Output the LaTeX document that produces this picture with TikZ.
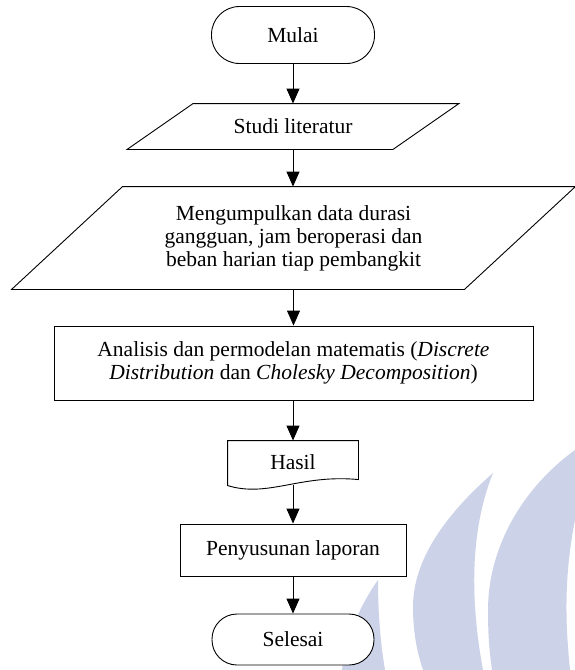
\documentclass[tikz,border=0pt]{standalone}
\usepackage{fontspec}
\setmainfont{Liberation Serif}
\usetikzlibrary{arrows.meta,calc}
\definecolor{wm}{RGB}{204,210,232}
\begin{document}
\begin{tikzpicture}[x=1pt,y=-1pt,line width=0.9pt,
  arr/.style={-{Triangle[length=15pt,width=13pt]}},
  txt/.style={font=\fontsize{21.5}{23}\selectfont,align=center,inner sep=0pt},
  term/.style={txt,draw,fill=white},
  blank/.style={txt,draw=none},
  procbox/.style={txt,draw,fill=white}]
\useasboundingbox (0,0) rectangle (575,670);
% watermark
\fill[wm] (378,580) .. controls (360,605) and (345,640) .. (342,670) -- (385,670) .. controls (380,640) and (378,610) .. (378,580) -- cycle;
\fill[wm] (493,473) .. controls (445,515) and (413,560) .. (413,607) .. controls (413,635) and (418,655) .. (423,670) -- (483,670) .. controls (470,600) and (470,530) .. (493,473) -- cycle;
\fill[wm] (575,450) .. controls (520,490) and (488,550) .. (488,610) .. controls (488,640) and (490,655) .. (492,670) -- (570,670) .. controls (566,630) and (563,580) .. (575,520) -- cycle;
% nodes
\node[term,minimum width=163,minimum height=57,rounded corners=28pt] (mulai) at (293,35) {Mulai};
\node[blank,minimum width=265,minimum height=45] (studi) at (293,126.5) {Studi literatur};
\filldraw[fill=white] ($(studi.north west)+(33,0)$) -- ($(studi.north east)+(33,0)$) -- ($(studi.south east)+(-33,0)$) -- ($(studi.south west)+(-33,0)$) -- cycle;
\node[blank] at (studi) {Studi literatur};
\node[blank,minimum width=452,minimum height=102] (data) at (293.5,238) {};
\filldraw[fill=white] ($(data.north west)+(55.5,0)$) -- ($(data.north east)+(55.5,0)$) -- ($(data.south east)+(-55.5,0)$) -- ($(data.south west)+(-55.5,0)$) -- cycle;
\node[blank] (datatext) at (data) {Mengumpulkan data durasi\\gangguan, jam beroperasi dan\\beban harian tiap pembangkit};
\node[procbox,minimum width=479,minimum height=74] (analisis) at (293.5,363) {Analisis dan permodelan matematis (\textit{Discrete}\\\textit{Distribution} dan \textit{Cholesky Decomposition})};
\node[blank,minimum width=130,minimum height=42] (hasil) at (293,462) {};
\filldraw[fill=white] (hasil.north west) -- (hasil.north east) -- ($(hasil.north east)+(0,39)$) .. controls (300,474) and (268,498) .. ($(hasil.north west)+(0,45)$) -- cycle;
\node[blank] at (hasil) {Hasil};
\coordinate (hasilb) at (293,485);
\node[procbox,minimum width=226,minimum height=52] (susun) at (293,550) {Penyusunan laporan};
\node[term,minimum width=162,minimum height=51,rounded corners=25pt] (selesai) at (293,639.5) {Selesai};
% connectors
\draw[arr] (mulai.south) -- (studi.north);
\draw[arr] (studi.south) -- (studi.south |- data.north);
\draw[arr] (data.south -| analisis.north) -- (analisis.north);
\draw[arr] (analisis.south) -- (analisis.south -| hasil.north) -- (hasil.north);
\draw[arr] (hasilb) -- (susun.north);
\draw[arr] (susun.south) -- (selesai.north);
\end{tikzpicture}
\end{document}
